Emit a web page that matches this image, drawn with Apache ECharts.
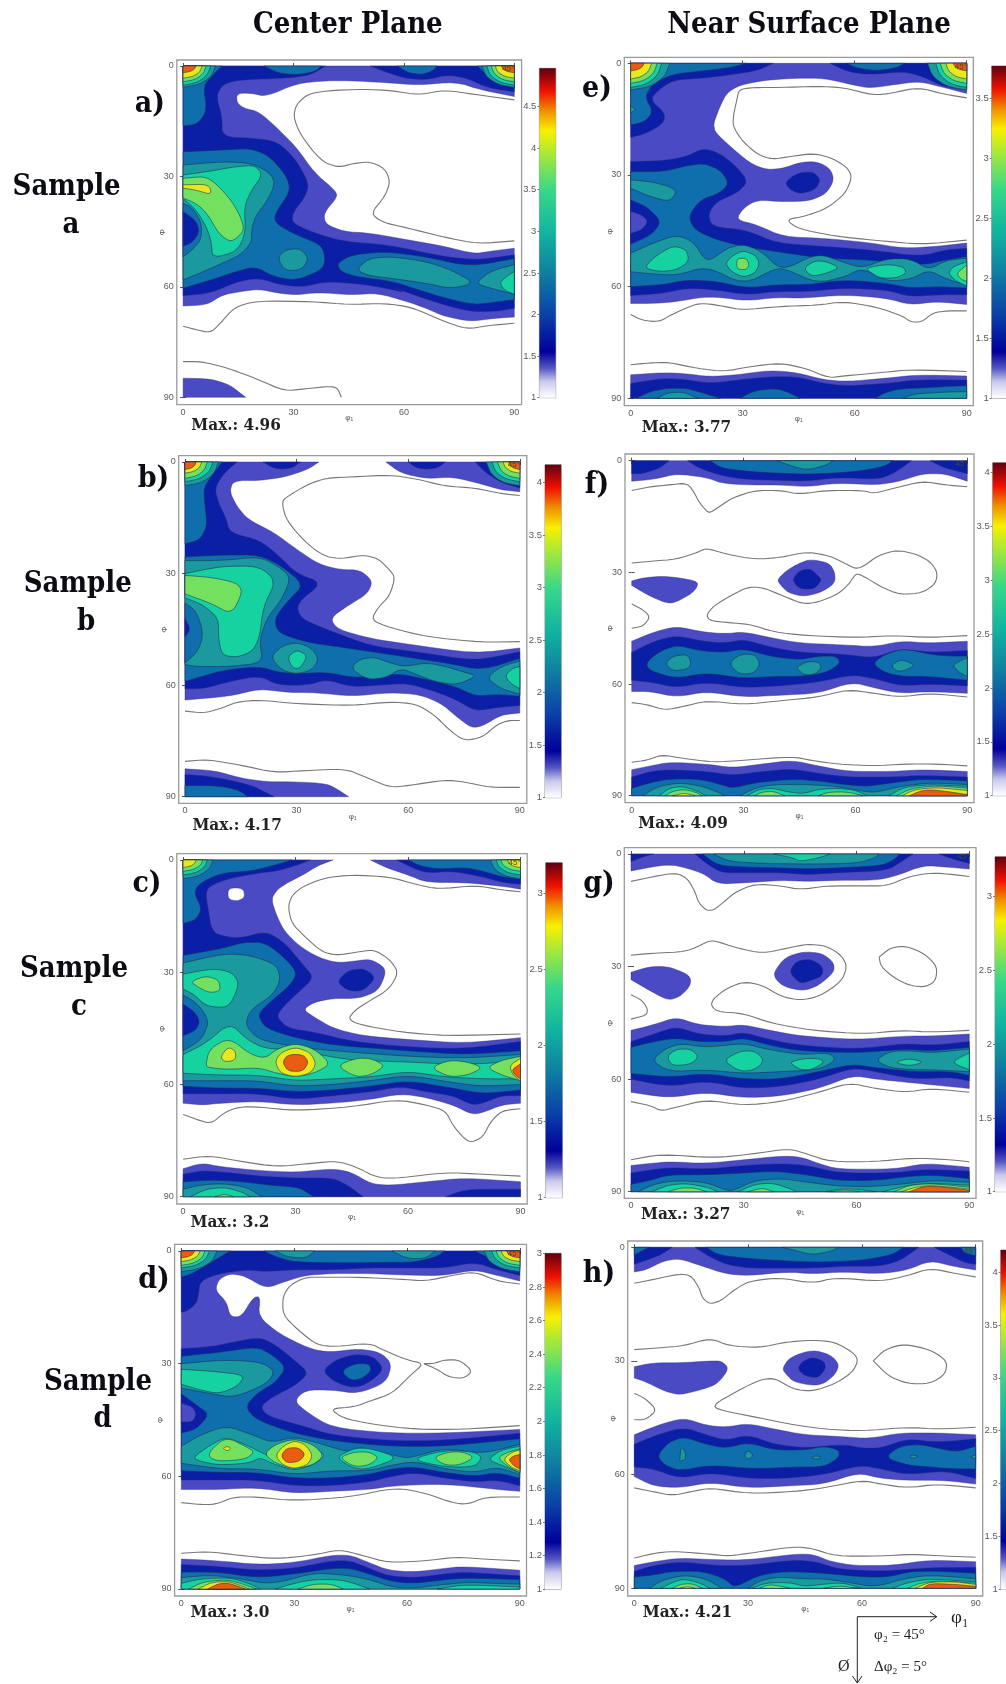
<!DOCTYPE html>
<html><head><meta charset="utf-8">
<style>html,body{margin:0;padding:0;background:#fff}#c{width:1006px;height:1684px}</style>
<script src="https://cdn.jsdelivr.net/npm/echarts@6/dist/echarts.min.js"></script>
</head><body><div id="c"></div>
<script>
// filled contours: [level, phi1, Phi, phi1, Phi, ...]  (painter's order)
const fillsA = [
[1,0,0,90,0,90,8.3,81,6.5,74,4.3,64,5.2,55,4.5,45,4,39,4,31,4.7,22.6,8.3,18.6,7.4,14.6,7.4,14.6,10,16.6,11.5,20.6,12.4,25.7,17,30.7,22,35.7,29,41.2,33.7,42,35.5,38.2,40,38.7,43,43.8,45,50.8,45.4,60.9,47.2,71,49,79,51,83,50.4,90,49.5,90,68.2,85,68.5,78,69.4,71,68,66,65.8,60.9,64,52.8,61.7,45.8,62.2,36.7,61.5,30.7,62.2,25.7,61.7,20.6,60.6,15.6,61.3,10.6,62.2,6.5,64.9,0,65.2],
[1,0,84.8,7.6,85,12.6,86.6,15.6,88.9,17,90,0,90],
[2,0,0,38.7,0,34.7,2.4,28.7,3.3,14.6,3.8,10.6,5.2,9,8.3,10.6,13.8,10.6,19.2,18.6,19.6,25.7,20.5,30.7,25.5,34.2,31.9,33.2,35.5,29.7,40,29.7,42.7,35.7,45.4,43.8,47.7,55.8,48.6,71,51.8,80,52.7,90,51.3,90,65.8,85,66.7,78,66.7,71,64.9,63.9,62.6,56.8,60,60.9,61.7,52.8,59.9,45.8,59,38.7,58.6,32.7,60,26.7,59.5,20.6,57.6,14.6,58.6,7.5,61.7,0,62.4],
[2,50.8,0,54.8,1.5,60,3.3,66,3.8,72,2.4,77,3.3,83,6,90,7,90,0],
[3,0,0,10.6,0,8,2.5,5.5,5.5,6.5,12,4,15.8,0,16.3],
[3,22,0,26,2,31,2.4,36,1.5,37.5,0],[3,58.3,0,61,1.8,65,2.4,68,1.2,69,0],[3,80,0,82,2,85,4.5,88,5.5,90,6,90,0],
[3,0,23.3,10.6,22.8,18.6,22.4,23.6,24.6,28.2,30,29.2,34,25,40,25,42.7,30.7,45.9,37.7,48.6,38.7,52.7,37.7,55.4,30.7,58.3,24.6,57.2,19.6,54.5,14.6,55.8,8,58,0,60.4],
[3,41.8,53.6,45.8,51.3,54.8,50.4,65.9,51.8,78,54.5,90,52.3,90,63.5,86,64,79,64.9,71,63,63.9,60.8,56.8,58.5,46.8,57.2,42.8,55.8],
[4,0,26.9,10.6,26,18.6,26.4,23.6,29,25,32,23,36.4,19.6,40.9,18.6,44.5,18.6,48,15.6,51.3,10.6,53.6,4.5,56.3,0,58.1],
[3,0,37.3,2.5,38.5,5,42.5,5,47,2.5,50,0,51.8],[2,0,39.5,3.5,42,4.5,45,2.5,48,0,49],
[4,25.7,52.2,27.7,50,31.7,49.5,34.2,52.2,32.2,55.4,27.7,55.6],
[4,47.8,54.5,50.8,52.2,56.8,51.8,65.9,53.1,72.8,55.4,79.3,59,72.8,60.5,65.9,59,56.8,57.7,50.8,57,47.8,55.8],
[4,79.3,59,84,55.5,90,54,90,62,84,60.5],[5,90,55.8,87.5,57.5,86,59,87.5,61,90,62],
[5,0,29.6,6.5,28.7,14.6,27.3,19.6,27,21.6,29.6,18.6,33.7,16.6,38.2,17,45.4,14.6,50.4,8,52.2,7.7,48,6.5,44,3.5,39,0,36],
[6,0,30.5,6,30,9,32,13,36.4,15.6,40.9,16.6,44.5,14.6,46.8,12.6,47.7,9.6,45.4,6.5,40,3.5,37.3,0,35.9],
[7,0,32.3,7,32.1,7.8,35,3.5,33.7,0,33.2]];
const linesA = [
[90,9.2,79,7.7,71,6.5,64,7.9,57,6.7,49,6.3,39,6.7,33.7,7.7,30.7,10.6,30,13.8,31.7,18.3,35.7,23.7,38.7,26.4,42.3,27.5,46.8,26.4,50.8,26,54.8,27.8,56.3,31.4,54.8,35.5,51,40,54,42.4,60.9,44,71,46.5,80,48.3,90,47.5],
[0,70.7,3,71.5,7.5,72.5,10,70,14,65.5,20,63.8,35,64,45,64.8,55,64.5,62,65.5,70,69,77,71.5,83,70.5,90,69.9],
[0,80.3,5,80.3,12,82,20,85,27.5,88.3,33,87.7,40,87,42,87.5,43,90]];
const cornerA = [[4,8.8,5.8],[5,7.5,5.2],[6,6.3,4.3],[7,5.2,3.3],[8,3.5,1.8]];

const fillsB = [
[1,0,0,36,0,33,2,27,4,20,5,13,5,12,8,14,12,17,15.5,24,19,30,23.5,36,27.5,42,29,47,29,50.5,32,49,35.5,44,38.5,39,42,41,45,50,47.5,60,49,78,51.5,90,50,90,67.5,85,68,80,71,77,71.5,73,68.5,69,65,63,62.5,55,62,45,63,35,62,28,62,20,61,12,63,0,64],
[1,54,0,58,3,65,4.5,72,4,80,6,85,7.5,90,8,90,0],
[1,0,82.5,8,83,15,85,22,86,30,86,38,86.5,41,88,44,90,0,90],
[2,0,84,6,84.5,12,85.5,18,87,22,89,24,90,0,90],[3,0,87,8,87,14,88,17,90,0,90],
[2,21,0,23.5,1.5,26,2,29,1.5,31,0],[2,60,0,62,1.5,65,2,68,1.5,70,0],[2,78,0,81,3,85,5.5,90,7,90,0],
[2,0,0,14,0,10.5,3,8,7,9,11,11,15,12,19,20,21,25,25,30,30,37,32.5,30,38,31,42,38,45,50,49.5,62,51,78,53.5,90,51,90,65.5,84,66,78,67,73,64,68,62,60,59.5,52,60,45,60.5,38,58.5,33,60,25,60,20,57.5,12,59,5,61,0,61],
[3,0,0,10,0,7,4,5,7,5.5,13,6,17,4,21,0,22],
[3,0,25.5,10,25,20,25,26,28,32,33,28,37,24,42,25,46,33,48.5,40,49.5,50,51,60,52.5,70,54,80,56,90,52.8,90,63,84,62.5,78,63,73,60.5,65,58.5,58,57,52,57.5,45,58,38,56.5,30,57,25,56.5,20,55,10,56,0,59],
[4,0,26.5,10,26.5,20,25.5,25,28,28.5,31,26,37,22,42,20,48,21,54,12,55,3,55,0,54.5],
[3,0,38,3,40,5,46,3.5,51,0,54],[2,0,42,1.5,45,0,47],
[4,23,52.5,26,49.5,30,48.5,34,50,36,53,34,56,30,57,26,56],
[5,27.5,52.5,30,50.5,33,52,31,55.5,29,55.5],
[4,44.5,55.5,47,53,51,52.5,55,54,59,55,65,54,70,55,75,56.5,78.5,57.5,73,60,67,59,62,57,58,55.5,54,58,49,58.5],
[4,81,58,85,55,90,53.5,90,62.4,85,61],[5,86,57.5,88,55.5,90,55,90,61,87.5,59.5],
[5,0,30,10,28,20,28,24.5,32,21,39,20,47.5,18,51,14,52.5,10,52,9,47.5,9,42,5,38.5,0,36.5],
[6,0,30.5,7,31,14,32.5,15.5,35,12.5,41,7,38,0,35.5]];
const linesB = [
[90,9,85,8.5,78,7,70,6.5,62,4.5,55,3.5,45,4,38,4.3,33,6,28,9,26,10.5,27,15,30,19,34,23,38,25.5,42,26,48,25,52,26,55,29,56.5,31,55,36,52,39,50,42.5,55,44.5,65,47,80,48.5,90,48.3],
[0,67,5,67.5,9,66.5,14,64.5,20,64,30,65,45,65.5,55,64.5,62,65,67,68,71,72,75,75,80,74,84,70.5,87,69.5,90,69.5],
[0,80.5,6,80,15,81.5,24,83.5,32,83,43,82.5,48,84.5,55,87.5,60,87,70,85.5,75,86,82,87.5,90,87.5]];
const cornerB = [[4,9,6.4],[5,7.5,5.3],[6,6,4.4],[7,4.5,3],[8,3,2]];

const fillsC = [
[1,0,0,40,0,36,1.5,32,4,28,6,25,8,23.5,10.5,25,15,27,19,31,23,36,26,41,27.5,46,27,50,26.5,53.5,28.5,54,30.5,52,35,47,37,40,37,35,38,32,40,35,42,40,45,48,47,60,48,75,49,90,47.5,90,65,85,65.5,80,67.5,77,68,72,65.5,65,63.5,58,62.5,50,64,40,65,30,65.5,20,64.5,10,65,5,65.5,0,65],
[1,50,0,54,2,60,4,65,6,75,6,85,7,90,7.8,90,0],
[0,12,7.5,16,7.5,16.5,10,14.5,11,12,10.5],
[2,0,0,34,0,30,1.5,25,3,20,3.5,12,5,7,7,6,9,7,15,7.5,18,9,20,15,21,22,19,27,22,32,28,35,31.5,30,36,26,40,25,42,28,45,35,46,45,48.5,60,50,75,50.5,90,48.5,90,63,85,63,80,65,77,65.5,72,63,65,62,58,60.5,50,62,40,63,30,64,20,62.5,10,62.5,0,62.5],
[2,57,0,61,2,65,3.5,72,3,80,4.5,85,6,90,6.5,90,0],
[2,41,32.5,44,29.5,48,29,50.5,30.5,51,32,48,35,44,35],
[3,0,0,29,0,24,1.5,18,3,10,3.5,4,6.5,3,9,5,13,3.5,16,0,17],[3,60,0,63,1.5,68,2.5,75,2,80,3,85,4.5,90,5.2,90,0],
[3,0,25.5,11,23.5,16,22,22,22,28,27,30.5,30.5,28,34,22,39,20,41.5,22,45,30,47.5,40,49.5,60,51,75,52,90,51,90,61.5,80,62.5,72,61,60,59,50,60.5,40,61.5,30,62,20,61,10,61,0,60.5],
[4,0,27.5,11,25,18,25.5,25,28,26,32,24,36,18,40,16.5,44,20,48,30,50,40,51,60,52.5,75,53,90,52,90,60,80,60.5,72,59.5,60,57.5,50,59,40,60,30,60.5,20,59,10,59,0,59],
[3,0,36,4,38.5,7,43,5,48,0,51],[2,0,38.5,3,40.5,4.5,43,3.5,45.5,0,47],
[5,0,30.5,8,29,13,30,15,33,13,38,11,39.5,6,39,3,36,0,34.5],[6,2,32.5,6,31,9.5,32,10,35,7,35.5,4,34],
[5,0,52,6,49,12.5,43.5,17,48,22,50.5,30,50.5,36,52,45,53.5,60,54,70,54.5,80,54.5,90,53.5,90,58.5,80,58.5,70,58,60,56.5,50,58,40,58.5,30,59,20,57.5,10,57.5,0,57],
[6,6,55,7,50.5,12.3,47.5,18,52,22,53,25,50.5,30,49,35,50.5,39.5,54.5,35,57,30,58,25,57,20,55.5,12,56,7,55.5],
[6,41,55,46,53,50,53,54,55,50,57.5,46,58],[6,66,55.5,71,53.5,76,54,80,55.5,76,57.5,71,58],[6,81,55.5,85,53.5,90,52.5,90,59,85,57.5],
[7,10,52.5,12,50,14,51,14,53.5,11,54],[7,24.5,54,26,51.5,30,50,34,51.5,35.5,54.5,34,57,30,58,26,57],[8,26.5,54,28,52,32,52,33.5,54,32,56.5,28,56.5],
[7,87,55,90,53,90,59,88,57.5],[8,87.7,56,90,54.5,90,58.5,88.5,57.5],
[1,0,82.5,5,81,10,82,20,83,30,83.5,40,82.5,45,83.5,50,86.5,55,87,65,86,75,85,90,86,90,90,0,90],
[2,0,84,5,83,12,83.5,20,84.5,30,85,40,85,44,87,48,90,0,90],[2,70,90,74,88.5,78,88,90,88,90,90],
[3,0,86,8,85.5,16,86,24,87,31,87.5,34,89.5,35,90,0,90],[4,0,88,5,86.8,11,86.5,17,87.5,21,90,0,90],[5,2,90,6,88,11,87.5,15,88.5,18,90],[6,8.5,90,11,89.3,13.5,90]];
const linesC = [
[90,8.5,85,8,78,6.8,68,7.8,62,6.5,55,4.5,45,4,38,4.7,32,7,29,9.5,28,12.5,29,17,33,21,37,24.5,41,25.5,47,24.5,51,24,55,26.5,57.5,30,55,34.5,50,37.5,46,40,44,42.5,47,44,58,46,70,47,90,46.5],
[0,68,4,69.5,7.5,70.5,11,67.5,15,66,20,66,30,67,45,66,57,64,65,65.5,70,67,72,71,75,74.5,77,75.5,80,74,82,70,85,67,90,66.5],
[0,80,7,79,15,80.5,25,82,35,81,41,80.5,46,82,52,85,58,85,70,83.5,80,84,90,84.5]];
const cornerC = [[4,8,5],[5,6.5,4],[6,5.3,3],[7,3.5,2]];

const fillsD = [
[1,0,0,90,0,90,8,84,6.5,78,5,70,6.5,62,6.5,50,6,40,6,33,6.5,28,8,22.5,10,17,6.7,13,6,10,7.5,9,10.5,12,13.5,13,17.5,16,17.5,19,12.5,21,12,20.5,17.5,26,22,34,26,39.5,27,47,26,53,27,56,30,54.5,35,47,38,40,37,33,37,30,40,33.5,43,40,47,55,48.5,70,48.5,90,47.5,90,64,84,63.5,70,62,56.5,62.5,50,63.5,40,64,30,64.5,20,63,10,63.5,0,63.5],
[2,0,0,90,0,90,6.5,84,5,78,3,70,4.5,60,4.5,50,4.5,40,5,30,5,22,5.5,18,5,10,6,5,8,4.5,12,4,14,1.5,16,0,16.3],
[3,78,0,81,1.5,85,3.5,90,5,90,0],[3,22,0,25,1.5,30,3,45,3.2,55,3,62,3,68,1.5,70,0],
[4,25,0,28,1.5,33,2,35.5,0],[4,56,0,60,2,65,2,67.5,0],[3,13,0,8,3,3,6,0,7,0,0],
[2,0,26,8,25.5,15,24,21,23,25,25,30,29,34,32.5,30,36,24,39,21,41.5,23,44,32,46.5,40,49,55,50.5,70,50.5,90,48.5,90,62.5,84,61,78,61.5,70,60.5,62,59,56,60,50,61.5,40,62.5,30,62.5,20,61,10,61,0,61],
[2,37.5,32,41,29,46,27.5,51,28,54,31.5,50,35,46,36.5,41,35],[3,42.5,32,46,30,50,30,50.5,32,48,34,45,34.5],
[3,0,28,10,27,20,25.5,24,27.5,28,31,25,35,20,38,17,41.5,20,45,30,48.5,40,50.5,55,52,70,52,90,50,90,60.5,84,59,78,60,70,59,62,57.5,56,58,50,59.5,40,60.5,30,60.5,20,59,10,59,0,58.5],
[2,0,38,4,41,7.5,43.5,4,47.5,0,48.5],[1,0,40.5,3,41.5,4,43.5,3,45.5,0,45.5],
[4,0,30,11,29,21,29.5,25,32,22.5,35.5,14,39,8,38,0,36.5],[5,0,31.5,8,32,17,33,15,36,10,38,5,37,0,35.5],
[4,0,52,5,49,12,46.5,19,49,24,51,30,49.5,36,51,44,53.5,48,53,53,53.5,59,55,61,55,70,52.5,80,54,90,51.5,90,59.5,84,57.5,78,59,70,58,62,56,56,57,50,58.5,40,58.5,30,59.5,20,58,10,58,0,56.5],
[5,3,55,8,51.5,12,49.5,18,52,21,53.5,24,55,26,52,30,50.5,35,52,38.5,54.5,35,57,30,58.5,24,56.5,21,55,18,56.5,10,57,5,56],
[5,41,55,46,52.5,50,52.5,58,55,50,58,46,58],[5,61,55.5,70,53,78,53.5,80,55,78,57.5,70,57.5],[5,81.5,55.5,85,53,90,52,90,59,85,57],
[6,7.5,53.5,10.5,50.5,13,50,17,52,19.5,53.5,17,55.5,10,56,7.5,55],
[6,22,54,25,51.5,30,50,35,51.5,38,54.5,35,57,30,58,25,56.5],
[6,42,55,46,53.5,50,53.5,52.5,55,50,57,46,57.5],[6,67,55,71,53.5,75,53.5,78,55,74,57,70,57],[6,84,55,87,53.5,90,52.7,90,59,87,57.5],
[7,25,54.5,27,52,30,50.5,33,51.5,35,54.5,33.5,57,30,58,27,57],[7,11,52.5,12.3,52,13.2,52.5,12.3,53.3],
[8,26.5,54.5,28,52.5,31,52.3,33,54,31.5,56,28,56.5],[7,85.5,55.5,88,53.5,90,53,90,58.5,88,57.8],[8,87,55.5,88.5,54.5,90,54.2,90,58,88.5,57.3],
[1,0,82,10,82.5,20,83.5,30,83,40,81,45,81,50,83,55,85,62,85.5,70,84.5,75,84,90,85,90,90,0,90],
[2,0,83.5,10,84,20,85,30,84.5,40,82.5,45,82.5,50,84.5,55,86.5,62,87,70,86,75,85.5,90,86.5,90,90,0,90],
[3,0,85.5,10,85.5,20,87,30,86,40,84.5,45,84.5,50,86,56,88,62,88.5,70,87.5,76,87,90,87.5,90,90,0,90],
[4,0,87,5,86.5,10,86.5,17,87.5,22,88.5,27,88,35,85.8,40,86,45,86.5,50,87.5,56,89.5,62,89.8,68,89,76,88.2,83,88.5,90,88.7,90,90,0,90],
[5,0,88.5,5,87.3,13,87,18,88.5,21,90,0,90],[5,25,90,30,88.5,35,87.5,42,87.5,46,88.5,50,90],[5,68,90,74,89,80,89,90,89.5,90,90],
[6,2,90,6,88,13,87.5,20,90],[6,31,90,35,88.7,40,88.7,43,90],[7,4.5,90,8,88.2,13,88,18,90],[8,7,90,10,88.5,13,88.5,17,90]];
const linesD = [
[90,8.8,84,8,78,5.5,72,6.5,65,8,58,7.5,48,7,38,7,33,7,29,9,27,12,27,17,31,21,36,25,41,25.5,50,24.5,54,26.5,60,29,64.5,30,61,33,56,38,50,40,46,41.5,39.5,42,43,44.5,50,46,62,47.5,75,47.5,90,46.5],
[64.5,30,67,30,70,29,74,29,77.5,32,75,34,71,33.5,68,31.5,64.5,30],
[0,67,5,67.5,9,67.5,14,65.5,20,65.5,30,66.5,45,65.5,57,63,65,64.5,72,67,76,67.5,81,65.5,90,65.5],
[0,80.5,7,80,15,81,25,82,35,81,42,79.5,48,81,55,83,65,82.5,73,81.5,80,82,90,82.5]];
const cornerD = [[4,9.5,5.5],[5,7.5,4.5],[6,6.3,3.8],[7,5,2.8],[8,3.5,1.8]];

const fillsE = [
[1,0,0,90,0,90,8.1,84.6,6.7,77.5,4.9,73,5.4,64,6.7,59.6,5.8,51.6,4,44.5,4,36.4,4.5,29.3,5.8,25.7,8,23.9,11.6,21.7,17.5,25.7,21.5,32,26.9,36.4,28.6,40.9,28.2,45.4,26.6,49.8,26.4,53.4,28.2,54.5,31.3,52.5,34.9,48,37,40.9,37.2,33.8,36.7,30.2,38.9,28.2,42,33.8,43.4,40.9,46.6,51.6,47,64,48.2,73,49.7,82,49.2,90,48.3,90,64.8,82,64,74.8,64.9,68.6,63.1,57,62.2,46.3,63.1,39,62.9,31,63.8,24,62.9,19.5,62.8,12.3,64,7,64.5,0,64.5],
[1,0,83.7,8.8,83.1,15,83.4,21,84.2,28.4,83.7,37.3,82.5,44.5,83.1,51.6,85,57.9,85.5,68.6,84.6,76.6,83.7,90,84,90,90,0,90],
[2,0,0,38.2,0,33.8,2,26.6,3.1,19.5,4,11.4,4.5,7.4,7.2,5.2,9.8,9.2,13.4,8.8,16.1,4.3,18.8,0,19.9],
[2,53.4,0,57.9,2.2,64,3.1,73,2.2,78.4,3.6,83.8,6.3,90,7,90,0],
[2,0,26.4,8.8,26.2,15,25,19.5,22.8,23.9,24.2,28.4,27.8,31.5,31.8,28.4,34.9,23,37.2,20.8,40.3,21.7,43.9,31,44.8,39,48.3,51.6,49.2,64,50.1,77.5,51.9,84.6,50.1,90,49.7,90,62.2,82,62.2,74.8,62.7,68.6,60.9,57,60.4,48,61.3,39,61.3,31,62.2,23.2,60.9,15,60.4,8.8,61.8,0,62.4],
[2,41.3,32,44.5,29.5,48.9,29.1,50.9,31.3,49.4,34,45.4,35.1,42.7,34],
[3,0,0,31,0,26.6,1.2,19.5,2,11.4,2.9,6,5.4,3.8,9,6,13,3.8,15.7,0,16.6],[4,0,11.5,1.5,12.4,0,13.3],
[3,57.9,0,60.5,1.3,65.9,2,71,1.3,73.5,0],[3,79.3,0,82,2.2,86.4,5,90,5.5,90,0],
[3,0,29.1,8.8,29.1,15,27.5,19.5,26.9,23.9,28.6,26.4,32.2,23.9,34.9,18.6,36.7,15.4,41.2,17.2,44.8,23,47.4,30.2,49.2,39,50.6,51.6,52.4,64,52.8,78.4,54.2,84.6,52.8,90,51.9,90,60.4,82,60,74.8,60.4,68.6,59.1,57,58.2,48,59.5,39,59.5,31,60.4,23,58.6,15,58.2,8.8,59.5,0,60],
[2,0,36.7,4.3,38.5,8.3,42.5,5.6,46.1,0,48.6],[1,0,39.8,2.9,40.7,4.7,42.5,2.9,44.8,0,45.7],
[4,0,31.3,5.2,31.8,10.5,33.1,12.3,34.5,10.5,37.2,5.2,35.8,0,33.6],
[4,0,51,6,48.3,12.3,46.1,16.8,47.9,20.4,53.7,25.7,49.7,30.2,48.6,35,50.5,39,54.5,42,55,48,52,51.6,51.5,57,53.5,62,55,68.6,52.5,75,52.5,79.8,55.5,84.6,52.9,90,52.4,90,59.5,84.6,58,79.8,55.5,75,58,68.6,58.6,62,55,57,57.5,49.8,59,42,55.5,39,55,30.2,59.5,20.4,54.5,12.3,57,5,56.5,0,56],
[5,3.4,55,7,51.5,11.4,49,15,50.1,15.6,53.3,12.3,55.5,7.9,56],
[5,25.3,53.7,27.5,51.5,30.2,50.3,33.3,51.5,34.6,53.7,33.3,56.4,30.2,57.5,27,56],[6,28.4,52.4,31,52.4,31.8,54.2,30.9,55.5,28.4,55.3],
[5,46.3,55,49.4,53,52.5,53.3,56,54.9,52.5,56.4,48.4,57.3],[5,62.8,55,68.6,54,73,54.6,73.9,56.4,71,57.7,66.8,57.7,64.6,56.4],
[5,85,56.4,86.4,54.6,90,53.3,90,59.8,87.3,58.6],[6,87.3,56.4,90,54.2,90,58.6,88.4,58],
[2,0,86,8.8,84.6,15,85,21.3,86,29.3,85,37.3,84.2,44.5,84.2,51.6,86,57.9,86.7,68.6,86,76.6,85,90,85.1,90,90,0,90],
[3,1.5,90,5.2,88.2,9.6,87.3,15,87.3,19.5,88.6,24,90],[3,29.3,90,32.9,88,39,87.3,42.5,88.5,45.4,90],[3,65.5,90,68,88.5,72,87.5,78,87.2,85,86.8,90,86.6,90,90],
[4,7,90,10,88.5,14,88.3,18,90],[4,73,90,76,88.8,85,88.3,90,88.2,90,90]];
const linesE = [
[90,9.3,84,8.3,77,6.5,70,8,65,8.6,57,6.5,50,6.2,40,6.5,33,6.5,29,7,28.5,9.5,27.5,14,27.4,17,30,21,34,24.5,38,25.8,43,25,49,24.2,54,25.5,58,28,59.3,30.5,57.5,35,52.5,39,47,41,41.5,42,45,44.5,55,46.5,65,47.5,78,48.7,90,47.5],
[0,67.5,3,69,7.5,69.5,11,67.5,17,64.8,20,64.5,25,65.3,30,66.3,40,65.3,50,65,57,64,66,65.5,73,68,75,69.5,78,69.5,81,67,85,66.5,90,66.5],
[0,81,5,80.5,10,80.3,18,82,25,82.8,32,81.5,40,80.5,47,82,53,84.5,57,84,68,83,75,82.3,90,82.8]];
const cornerE = [[4,10.5,7.2],[5,8.3,6.5],[6,7.1,5.4],[7,5.6,4.2],[8,3.6,2]];

const fillsF = [
[1,0,0,90,0,90,5.5,84,3.5,78,3.5,72,5.5,66,6.5,55,6,47,7,40,6.5,30,6.5,24,6,20,4.5,12,3.5,6,5,0,5.5],
[2,0,0,10,0,7.5,2,3,3.5,0,3.5],[2,15,0,18,2,24,4,30,5,40,5.3,47,5.5,55,4.5,66,5,70,3.5,73,1.5,75,0],[2,80,0,84,2,90,3.5,90,0],
[3,21,0,24,2,32,3,47,3.7,60,3,68,1.5,70,0],[4,39,0,43,1.5,47,2.5,52,1.3,54,0],
[1,0,32.3,3,31.5,8,31,13,31.5,18,32.5,17,35,13,37.5,10,38.5,5,36.5,0,33.5],
[1,39,32,41.5,29.5,45,27.5,48,26.5,53,27.5,54.5,30,54.5,33,50.5,35.5,46,36.5,42,35.5,40,33.5],
[2,43,32,45,29.5,48,29,50,31,51,32,49,34.5,45,34.5],
[1,0,48.5,6,46,12,44.5,19,46,25,46.5,30,46,37,47.5,45,49,57,49.5,65,50,72,48.5,80,49,90,48.5,90,62.5,80,62,72,62.5,65,61,59,59.5,50,62.5,40,63,30,63.5,20,62,12,63.5,5,62,0,62],
[2,0,51.5,6,48.5,12,47,19,48.5,25,49,30,48,37,50,45,51.5,57,52,65,53,72,50.5,80,51.5,90,51,90,60.5,80,60,72,60.5,65,58.5,59,57.5,50,59.5,40,60.5,30,61,20,59.5,12,61,5,59.5,0,59],
[3,3.7,54.5,7,51.5,12,49.5,18,51,25,51.5,30,50.5,37,52.5,45,53.5,50,52.5,55,52.5,56,54.5,52,57,45,58,37,58,30,58.5,20,57,12,58.5,5,56.5],
[3,64.5,54.5,68,52,73,50.5,80,52,85,52.5,90,52.5,90,59,85,58.5,80,58,73,58,68,57],
[4,9,54.5,11,52.5,15,52,16,54.5,15,56,11,56.5],[4,26,54.5,29,52,33,52,34.5,54.5,33,57,29,57.5],[4,44,55.5,47,54,50,54,51,55.5,49,57.5,46,57.5],[4,69.5,55,72,53.5,74,54,76,55,73,56.5,71,56.5],[4,86,55,88.5,53.5,90,53,90,58,88,57],
[1,0,83,5,82,10,81,20,81.5,27,82.5,35,81.5,43,80.5,50,82,58,83.5,70,83.5,78,83,90,83.5,90,90,0,90],
[2,0,85,5,83.5,10,83,20,83.5,27,84.5,35,83.5,43,82.8,50,84,58,85,70,85,78,84.5,90,85,90,90,0,90],
[3,0,88,5,86.5,10,85.5,18,85.5,24,87,27,88,33,86.5,43,85.5,50,86,57,87,63,87.5,70,86.5,78,85.5,90,86,90,90,0,90],
[4,3,90,7,87.5,13,86.5,19,87.5,23,89,25,90],[4,29,90,33,88,38,87,47,87,55,87.5,63,89,66,89,72,87.5,80,86.5,90,87,90,90],
[5,7.5,90,10,88,13.5,87.5,17,88.5,20,90],[5,31,90,34,88.3,38,88,42,89,46,89.5,50,88.3,55,88,60,88.5,63,90],[5,69,90,73,87.7,80,87,90,87.5,90,90],
[6,9,90,11,88.8,14,88.3,17,89,19,90],[6,33,90,35,89,38,88.8,41,90],[6,50,90,53,89,58,89,62,90],[6,71,90,75,88,82,87.3,90,88,90,90],
[7,11,90,14,89.3,17,90],[7,72.5,90,76,88.3,82,87.8,90,88.6,90,90],[8,74.5,90,78,88.5,82,88.5,90,89.7,90,90]];
const linesF = [
[0,8,5,7,10,6.5,15,6,17,9,18,11,20,13.5,21,14,24,12,27,10,33,8,40,8,45,9,52,8,62,8,65,8.8,70,7.5,78,5.5,84,6.5,90,7],
[0,27.5,5,27,12,26.5,18,24.5,20,23.5,25,25,33,26.5,40,26,47,24.5,53,25.5,58,28,60,29,62,28.5,66,25.5,71,24,76,25,80,27,82,30,81.5,33,78,35.5,72,36,67,34,63,31.5,61,30.5,60,30.5,58,33.5,55,36,50,38,46,38.5,41,36.5,35,34,31,34,27,36,22,39,20,41.5,21,43,26,43.5,32,44,38,46,47,47,60,47.5,70,47,80,47.5,90,47],
[0,38.5,3,40,5,42,3,44.5,0,45],
[0,65,4,65.5,9,67,14,66,20,64.5,30,65.5,40,64.5,50,63.5,58,61.5,65,62.5,72,63.5,80,62.5,90,63.5],
[0,81,4,80.5,8,79,14,80,22,81,30,80.5,43,79.5,48,80.5,55,81.5,65,82,73,81.5,82,81.5,90,82]];

const fillsG = [
[1,0,0,90,0,90,4,84,3.5,78,3,70,6,65,7,55,7,47,7.3,40,7,30,7.7,23,8,19,5,12,3,8,3,0,4.5],
[2,0,2,4,0.5,6,0,0,0],[2,17,0,20,2.5,24,5,30,5,40,5,47,5.5,55,5,68,4.5,72,2,75,0],[2,82,0,86,1.5,90,2.5,90,0],
[3,19,0,23,3,30,3.5,40,3.7,47,4,60,3.5,67,3,70,1.5,71.5,0],[4,22,0,26,2,35,2.5,47,2.7,60,2.5,65,1,66,0],[5,38,0,43,1,45,2,50,1,53,0],
[1,0,31.5,5,30,10,30,15,32,16,33.5,15.5,35.5,13,38,10,39,6,37,0,33.5],
[1,38,31.5,41,27.5,46,26,51,26.5,54,29,54,31.5,50,35,46,36.5,41,35.5,38.5,33.5],
[2,42,31.5,44,28.5,48,28,51,30,51,32.5,47,34,45,34.5],
[1,0,47,6,45.5,12,43.5,18,45.5,25,46,30,45.5,37,47,45,48.5,60,49.5,73,48.5,80,48.5,90,48,90,62.5,85,62,75,61,65,60,59,59,50,62.5,40,64.5,30,65,20,63.5,10,65,0,63.5],
[2,0,50,6,48,12,46,18,48,25,48.5,30,47.5,37,49.5,45,51,60,52,73,50.5,80,51,90,50,90,60.5,85,59.5,75,60,65,58,59,57,50,60,40,62,30,62.5,20,60.5,10,62,0,60],
[3,0,51.5,6,50,12,49,18,50,25,50,30,49,37,51,45,52.5,60,53,73,52,80,52.5,90,51.5,90,59,85,58,75,58,65,57,59,56,50,58,40,60,30,60,20,58.5,10,59.5,0,58.5],
[4,5.5,55,9,52,13,50.5,20,51.5,25,51,30,50.5,36,52,45,53.5,53,53,54.5,55,50,57.5,40,58,30,58.5,20,57.5,10,58],
[4,65,55,69,52.5,75,52.5,80,53,90,52,90,58,80,57.5,75,57.5,69,57],
[5,9.5,54,12,52,16,52,18,54,16,56,11,56.5],[5,24.5,55,29,52.5,33,52.5,35.5,55,33,57.5,29,58],[5,42,55.5,46,54.5,50,54.5,51.5,55.5,48,57.5,45,57.5],[5,70,55.5,74,54.5,78,55.5,74,56.5],[5,85,55.5,90,53,90,57.5],
[1,0,83,5,82.5,10,82,20,82.5,30,81.5,40,80.5,45,80.7,50,82.5,55,84,70,84,78,82.5,85,83,90,83.5,90,90,0,90],
[2,0,85,10,83.5,20,84,30,83,40,82.5,47,83,55,85,70,85,78,84,90,84.5,90,90,0,90],
[3,0,88,5,87,10,85.5,20,85.5,30,85,38,84.5,47,85.5,55,87,65,87,73,86,80,85.5,90,86.5,90,90,0,90],
[4,2,90,6,88,12,87,20,87.5,25,89.5,27,89.8,33,87,40,86.5,47,87.5,55,88.5,63,88.7,72,88,80,87,90,87.5,90,90],
[5,5.5,90,10,88.2,15,87.8,21,89,23,90],[5,28.5,90,33,88,38,87.7,43,89.5,44,90],[5,52,90,55,89.3,60,89.3,65,90],[5,67,90,72,88.7,76,88,82,87.8,90,88.3,90,90],
[6,10,90,13,89,17,89,20,90],[6,31,90,35,89,38,90],[6,53,90,57,89.5,61,90],[6,70,90,74,88.3,80,87.8,90,88.8,90,90],
[7,72,90,76,88.7,80,88.3,90,89.3,90,90],[8,74,90,78,88.5,83,88.7,90,89.6,90,90]];
const linesG = [
[0,7.3,6,6,12,5,15,6.5,17,10,18,13,20,15,22,15,25,12.5,28,10,33,8,40,8.5,45,9.5,52,8.5,62,8.5,68,8.5,74,6,80,5,86,5.5,90,6],
[0,27,5,26.5,15,26,20,23.5,22,23,28,25,35,26.5,42,25,47,24,52,24.5,56,27,57.5,30,56,34,50,38,45,39,40,38,35,35,30,34,25,36,21,39.5,22.5,42,30,42.5,37,45,48,47,62,48,72,47,80,47.5,90,47],
[66,27.5,69,25,73,24.5,78,26.5,81.5,30,81,34,78,35.5,74,35,70,33,66.5,30,66,27.5],
[0,37.5,3,39,4.5,41.5,4,43,0,44],
[0,66,5,67,8,68.5,12,67.5,20,65.5,30,67,40,66,50,63.5,58,61,65,62.5,73,63.5,80,62.5,90,63.5],
[0,81.5,8,80,22,81,32,80,42,78.5,47,80,53,82,65,82,75,81,85,81.5,90,82]];

const fillsH = [
[1,0,0,90,0,90,6,84,5,78,3.5,72,6,65,7,55,6.5,47,7,40,6.5,30,7.5,24,7,18,5,12,3,8,3.5,3,6,0,6.5],
[2,0,0,10,0,7,2,3,3.5,0,4.5],[2,16,0,19,2,24,4.5,30,5.5,40,5.5,47,5.5,55,5,65,5,70,3.5,73,1.5,75,0],[2,79,0,83,2,87,4,90,4.5,90,0],
[3,19,0,22,2,30,3,47,4,60,3.5,68,2,71,0],[3,0,0,4,0,2,1,0,2],[3,86,0,87,1.5,90,2.2,90,0],[4,39,0,43,1,47,2,52,1,54,0],
[1,0,31.5,5,30.5,12,30.5,20,30,23,30,25,32,22,36,18,37.5,12,39,8,38,3,35.5,0,34.5],
[1,39,32,41,29,47,27,52,28.5,54,31,53,33.5,50,36,47,36.5,42,35.5,40,33.5],
[2,43,32,44.5,30,47,29,50,30,50.5,32,48.5,34.5,45,34],
[1,0,49.5,6,47,13,45,19,47,24,47.5,30,46.5,37,48,45,49.5,55,50,62,50.5,70,49,80,49,90,49.5,90,62.5,82,61.5,72,61.5,65,61,59,59.5,50,62.5,40,63,30,63.5,20,62,12,63.5,5,63,0,60.5],
[2,0,52,6,49.5,13,47.5,19,49.5,24,51,30,49.5,37,52,45,53,55,52,60,53,65,53,72,50.5,80,51.5,90,50.5,90,61,82,59,72,60,65,58.5,59.5,57.5,50,60,40,61,30,61,20,59.5,12,61,5,58.5,0,58],
[3,6,55,9,51.5,13,50,19,52,24,53,30,51.5,37,53.5,45,53.5,50,52.5,54,53.5,54,55.5,50,58,42,58,32,58.5,20,57.5,12,59,8,57.5],
[3,66,55.5,70,52.5,75,52,80,53,85,54,90,52.5,90,58.5,84,58.5,78,58,72,57.5],
[4,12,56,12.3,52.5,13.5,54,13.5,56,12,56.5],[4,29,55,30,53.5,31.5,55,30,56],[4,46.5,55.5,48,55,49.5,55.5,48,56],[4,72.5,55.2,73.5,54.8,75,55.2,73.5,55.7],[4,88.5,55.3,90,54.8,90,55.8],
[1,0,84,5,83,12,82,22,82.5,30,82.5,42,81,47,81,52,83,58,84,68,84,78,82.5,90,83,90,90,0,90],
[2,0,85.5,5,84,12,83,22,84,30,84,42,82.5,48,83,54,85,65,85.5,72,85,80,84.5,90,84.5,90,90,0,90],
[3,0,87,5,86.5,10,85.5,18,85.5,24,87.5,26,89.5,28,89,33,86.5,40,85.5,50,86,60,87,67,87,73,85.5,80,85.5,90,86,90,90,0,90],
[4,4,90,7,88,13,86.5,19,87.5,23,90],[4,30,90,33,88,38,87,45,87.5,50,87.5,57,88.5,62,89.5,66,89,71,87.5,78,86.5,90,87.5,90,90],
[5,7,90,10,88.5,13,87.5,17,88.5,20,90],[5,31,90,35,88.5,41,88.5,45,89.5,49,89,55,88.5,60,90],[5,68,90,72,88.5,78,87.5,90,88.3,90,90],
[6,10,90,12,89,15,88.7,18,90],[6,33,90,35.5,89,39,89.5,41,90],[6,50,90,54,89.3,59,90],[6,72,90,75,88.7,80,88,90,88.7,90,90],
[7,12,90,14,89.5,16,90],[7,74,90,78,88.3,85,88.3,90,89,90,90],[8,76,90,78,88.7,85,89,90,89.5,90,90]];
const linesH = [
[0,9.5,5,8.5,12,7,15,7.5,17,10.5,18,13.5,20,15,23,14,26,11.5,30,9,38,8,47,9.5,53,8,65,9,72,7.5,78,5.5,85,7,90,7.8],
[0,27,7,26.5,13,26,20,24,25,26,33,26.5,40,25,47,24.5,53,25,58,28,59,30,57.5,33,53,36,47,38,42,37.5,37,34.5,33,35,28,37.5,20,42,25,43.5,33,45,40,46.5,50,48,60,48.5,72,47.5,80,48,90,47.5],
[63,30,66,27,71,25.5,78,27,82.5,30,82,33.5,78,36,72,36,67,34,63,30],
[0,38.5,3,40,6,43,3,45.5,0,45.5],
[0,63.5,5,64.5,10,65.5,15,64.5,20,63.5,30,65,42,64.5,50,63.5,60,61.5,65,62.5,72,63.5,80,62.5,90,63.5],
[0,82,5,80.8,10,80.2,20,81,25,81.5,32,80.5,42,79,47,79.5,53,81.5,65,81.5,73,81,82,81.5,90,81.8]];

const maxValues = {a:4.96,b:4.17,c:3.2,d:3.0,e:3.77,f:4.09,g:3.27,h:4.21};
const maxLabels = {a:'Max.: 4.96',b:'Max.: 4.17',c:'Max.: 3.2',d:'Max.: 3.0',e:'Max.: 3.77',f:'Max.: 4.09',g:'Max.: 3.27',h:'Max.: 4.21'};
const barTicksA = [1,1.5,2,2.5,3,3.5,4,4.5];
const barTicksB = [1,1.5,2,2.5,3,3.5,4];
const barTicksC = [1,1.5,2,2.5,3];
const barTicksD = [1,1.2,1.4,1.6,1.8,2,2.2,2.4,2.6,2.8,3];
const barTicksE = [1,1.5,2,2.5,3,3.5];
const angleTicks = [0,30,60,90];

// ---- style & layout (px) ----
const levelColors = ['#ffffff','#4a4ac4','#0b1fa6','#0f6eac','#1a9a9e','#16d2a0','#74e060','#e8e81c','#ea5c10'];
const barStops = [[0,'#ffffff'],[0.05,'#c8c8ec'],[0.09,'#5555c4'],[0.14,'#00009a'],[0.25,'#0a40a8'],[0.38,'#0f80a0'],[0.5,'#10b4a0'],[0.63,'#38d888'],[0.74,'#a8e838'],[0.81,'#f8f000'],[0.87,'#f09000'],[0.93,'#f01000'],[1,'#600010']];
const panels = [
 {k:'a',fills:fillsA,lines:linesA,corner:cornerA,ticks:barTicksA,d:[183.1,514.3,66,397.3],f:[176.8,521.6,60,404.7],b:[539.4,555.7,68.3,397.7],mx:191.3,my:425},
 {k:'e',fills:fillsE,lines:linesE,corner:cornerE,ticks:barTicksE,d:[630.7,966.7,63.3,398.3],f:[624.3,973.3,57.3,405.7],b:[991.7,1008,66,398.3],mx:641.7,my:426.7},
 {k:'b',fills:fillsB,lines:linesB,corner:cornerB,ticks:barTicksB,d:[185,519.8,462,796.7],f:[178.7,526.8,455.7,803.3],b:[545,561.2,464.7,797.7],mx:192.4,my:825},
 {k:'f',fills:fillsF,lines:linesF,corner:[],ticks:barTicksB,d:[631.7,967.3,460.7,795.7],f:[625,974,454,802.7],b:[992.7,1009,462.7,795.7],mx:638.3,my:823.3},
 {k:'c',fills:fillsC,lines:linesC,corner:cornerC,ticks:barTicksC,d:[183.1,520.5,860,1196.7],f:[176.8,527.2,853.7,1204],b:[545.7,562.3,862.7,1197.7],mx:190.5,my:1221.7},
 {k:'g',fills:fillsG,lines:linesG,corner:[],ticks:barTicksC,d:[631,969.3,854,1191.7],f:[624.3,976,847.7,1198.3],b:[995,1011,856.7,1191.7],mx:641,my:1214.3},
 {k:'d',fills:fillsD,lines:linesD,corner:cornerD,ticks:barTicksD,d:[181.3,519.8,1251,1589],f:[174.6,526.5,1244.3,1596],b:[545,561.2,1253.3,1589.3],mx:190.5,my:1612.3},
 {k:'h',fills:fillsH,lines:linesH,corner:[],ticks:barTicksB,d:[634.3,975.7,1247.3,1588.3],f:[627.7,982.7,1241,1596],b:[1000.7,1017,1250,1589],mx:642.7,my:1611.7}
];
const SERIF = '"DejaVu Serif Condensed","DejaVu Serif",serif';

function pairs(flat){const o=[];for(let i=0;i<flat.length;i+=2)o.push([flat[i],flat[i+1]]);return o;}
function cornerPoly(rx,ry,right){
  const p=[[0,0],[rx,0],[rx*.87,ry*.5],[rx*.5,ry*.87],[0,ry]];
  return right?p.map(q=>[90-q[0],q[1]]):p;
}
// rounds the contour corners for drawing; vertices on the plot edge stay put
const onEdge=q=>q[0]<=0||q[0]>=90||q[1]<=0||q[1]>=90;
function rounded(pts,closed,iter){
  let cur=pts, c=0.22;
  for(let k=0;k<iter;k++){
    const out=[],n=cur.length;
    cur.forEach((q,i)=>{
      const isEnd=!closed&&(i===0||i===n-1);
      if(isEnd||onEdge(q)){out.push(q);return;}
      const a=cur[(i-1+n)%n],b=cur[(i+1)%n];
      out.push([q[0]+(a[0]-q[0])*c,q[1]+(a[1]-q[1])*c]);
      out.push([q[0]+(b[0]-q[0])*c,q[1]+(b[1]-q[1])*c]);
    });
    cur=out;
  }
  return cur;
}
const grid=[],xAxis=[],yAxis=[],series=[],graphic=[];
panels.forEach(p=>{
  const [dl,dr,dt,db]=p.d,[fl,fr,ft,fb]=p.f;
  const xs=90/(dr-dl),ys=90/(db-dt);
  const gi=grid.length;
  grid.push({left:fl,top:ft,width:fr-fl,height:fb-ft,show:true,backgroundColor:'#fff',borderColor:'#9a9a9a',borderWidth:1.3});
  const xr={min:-(dl-fl)*xs,max:90+(fr-dr)*xs}, yr={min:-(dt-ft)*ys,max:90+(fb-db)*ys};
  const tick={show:true,inside:true,length:3,customValues:angleTicks,lineStyle:{color:'#555',width:1}};
  const lab={show:true,customValues:angleTicks,color:'#5a5a5a',fontSize:9,margin:3,fontFamily:'"Liberation Sans"',formatter:v=>String(v)};
  xAxis.push({type:'value',gridIndex:gi,position:'bottom',...xr,axisLine:{show:false},splitLine:{show:false},axisTick:tick,axisLabel:lab,
    name:'φ₁',nameLocation:'middle',nameGap:9,nameMoveOverlap:false,nameTextStyle:{fontSize:8,color:'#555'}});
  xAxis.push({type:'value',gridIndex:gi,position:'top',...xr,axisLine:{show:false},splitLine:{show:false},axisTick:tick,axisLabel:{show:false}});
  yAxis.push({type:'value',gridIndex:gi,position:'left',inverse:true,...yr,axisLine:{show:false},splitLine:{show:false},axisTick:tick,axisLabel:lab,
    name:'Φ',nameLocation:'middle',nameGap:10,nameRotate:90,nameMoveOverlap:false,nameTextStyle:{fontSize:8,color:'#555'}});
  yAxis.push({type:'value',gridIndex:gi,position:'right',inverse:true,...yr,axisLine:{show:false},splitLine:{show:false},axisTick:tick,axisLabel:{show:false}});
  const polys=p.fills.map(f=>({lv:f[0],pts:pairs(f.slice(1))}));
  p.corner.forEach(c=>{polys.push({lv:c[0],pts:cornerPoly(c[1],c[2],false)});polys.push({lv:c[0],pts:cornerPoly(c[1],c[2],true)});});
  polys.forEach(q=>{q.draw=rounded(q.pts,true,2);});
  const xi=xAxis.length-2, yi=yAxis.length-2;
  series.push({type:'custom',xAxisIndex:xi,yAxisIndex:yi,silent:true,animation:false,clip:false,
    data:polys.map((q,i)=>[q.pts[0][0],q.pts[0][1],i]),encode:{x:0,y:1},
    renderItem:(par,api)=>{const q=polys[api.value(2)];
      return {type:'polygon',shape:{points:q.draw.map(t=>api.coord(t))},
        style:{fill:levelColors[q.lv],stroke:q.lv>=3?'#1c2a50':'#2a2a70',lineWidth:q.lv>=3?0.55:0.4,lineJoin:'round'}};}});
  const ls=p.lines.map(pairs), lsDraw=ls.map(l=>rounded(l,false,2));
  series.push({type:'custom',xAxisIndex:xi,yAxisIndex:yi,silent:true,animation:false,clip:false,z:3,
    data:ls.map((q,i)=>[q[0][0],q[0][1],i]),encode:{x:0,y:1},
    renderItem:(par,api)=>({type:'polyline',shape:{points:lsDraw[api.value(2)].map(t=>api.coord(t))},
        style:{fill:'none',stroke:'#777',lineWidth:1.1,lineJoin:'round'}})});
  // colour bar
  const [bl,br,bt,bb]=p.b, bg=grid.length, mv=maxValues[p.k];
  grid.push({left:bl,top:bt,width:br-bl,height:bb-bt,show:true,backgroundColor:'#fff',borderColor:'#999',borderWidth:1});
  xAxis.push({type:'value',gridIndex:bg,min:0,max:1,show:false});
  const barTick={show:true,inside:false,length:2,customValues:p.ticks,lineStyle:{color:'#777'}};
  yAxis.push({type:'value',gridIndex:bg,position:'left',min:1,max:mv,axisLine:{show:false},splitLine:{show:false},axisTick:barTick,
    axisLabel:{show:true,customValues:p.ticks,color:'#5a5a5a',fontSize:9.5,margin:3,fontFamily:'"Liberation Sans"',formatter:v=>String(v)}});
  series.push({type:'custom',xAxisIndex:xAxis.length-1,yAxisIndex:yAxis.length-1,silent:true,animation:false,clip:false,
    data:[[0,1,1,mv]],encode:{x:0,y:1},
    renderItem:(par,api)=>{const a=api.coord([0,mv]),b=api.coord([1,1]);
      return {type:'rect',shape:{x:a[0],y:a[1],width:b[0]-a[0],height:b[1]-a[1]},
        style:{fill:{type:'linear',x:0,y:1,x2:0,y2:0,colorStops:barStops.map(s=>({offset:s[0],color:s[1]}))}}};}});
  // max label, 45 deg mark
  graphic.push({type:'text',left:p.mx,top:p.my-8,z:50,style:{text:maxLabels[p.k],font:'bold 17px '+SERIF,fill:'#222'}});
  graphic.push({type:'text',left:dr-12,top:dt-1,z:50,style:{text:'45°',font:'8px "Liberation Sans"',fill:'#4a4a20'}});
});
function ctext(txt,cx,cy,size,col){graphic.push({type:'text',x:cx,y:cy,z:50,style:{text:txt,font:'bold '+size+'px '+SERIF,fill:col||'#0c0c14',align:'center',verticalAlign:'middle'}});}
ctext('Center Plane',347.8,25,29);ctext('Near Surface Plane',809,25,29);
[['a)',150,104],['e)',597,89],['b)',153.5,479],['f)',597,485],['c)',147,884],['g)',599,884],['d)',154,1280],['h)',599,1274]].forEach(t=>ctext(t[0],t[1],t[2],30));
[['Sample',66.6,187],['a',71,225],['Sample',77.7,584],['b',86,622],['Sample',74,969],['c',79,1007],['Sample',98,1382],['d',102.5,1419]].forEach(t=>ctext(t[0],t[1],t[2],29));
// axis key
const key='#222';
[[857.3,1616.7,936.7,1616.7],[857.3,1616.7,857.3,1683],[930,1612,936.7,1616.7],[930,1621.4,936.7,1616.7],[852.5,1676,857.3,1683],[862,1676,857.3,1683]].forEach(l=>
  graphic.push({type:'line',z:50,shape:{x1:l[0],y1:l[1],x2:l[2],y2:l[3]},style:{stroke:key,lineWidth:1}}));
function stext(t,x,y,s){graphic.push({type:'text',x,y,z:50,style:{text:t,font:s+'px "Liberation Serif",serif',fill:key,verticalAlign:'middle'}});}
stext('φ₁',951,1618,19);stext('φ₂ = 45°',874,1635,15);stext('Δφ₂ = 5°',874,1667,15);stext('Ø',838,1667,16);

const chart=echarts.init(document.getElementById('c'),null,{renderer:'canvas',width:1006,height:1684});
chart.setOption({animation:false,backgroundColor:'#fff',grid,xAxis,yAxis,series,graphic});
</script></body></html>
